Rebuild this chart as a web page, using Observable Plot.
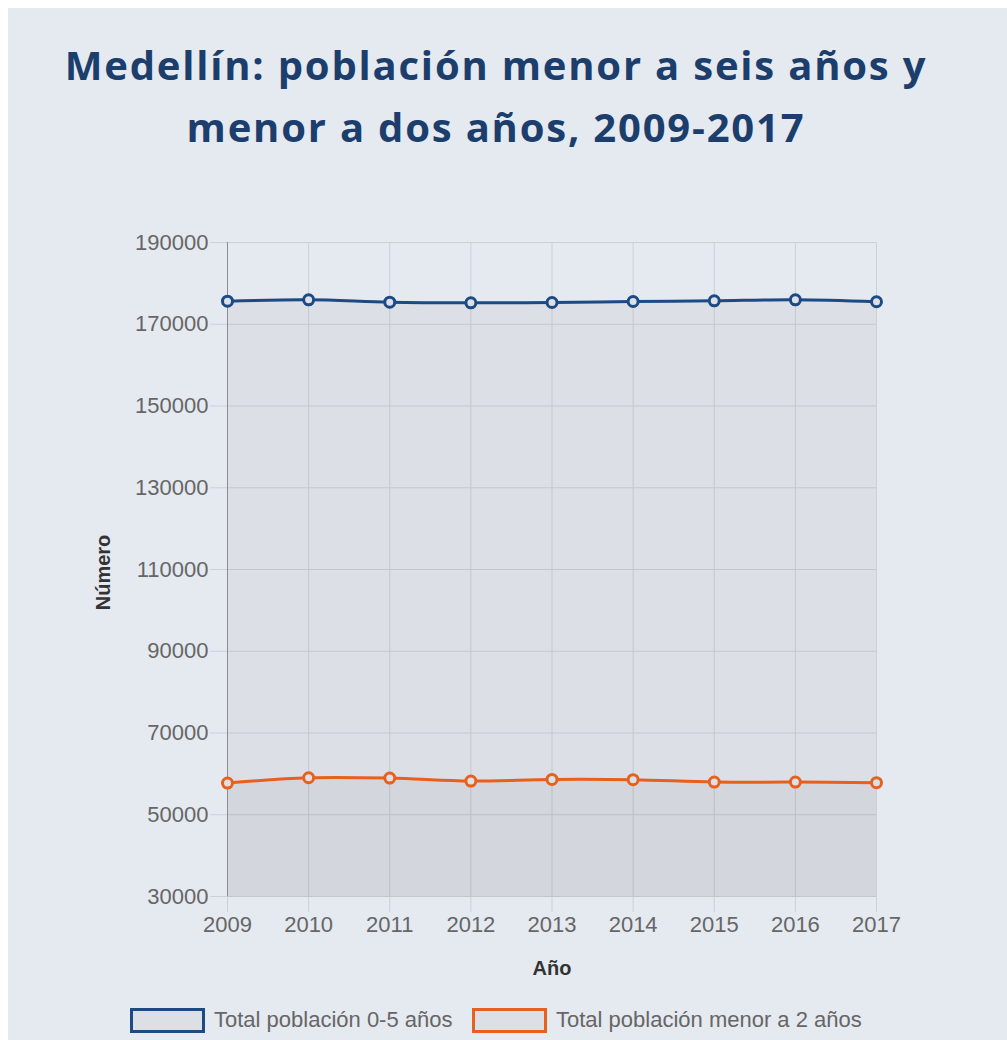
<!DOCTYPE html>
<html>
<head>
<meta charset="utf-8">
<script src="https://cdn.jsdelivr.net/npm/d3@7"></script>
<script src="https://cdn.jsdelivr.net/npm/@observablehq/plot@0.6"></script>
<style>
  html, body { margin: 0; padding: 0; background: #ffffff; }
  #panel { position: absolute; left: 8px; top: 8px; width: 999px; height: 1032px; background: #e5e9f0; }
  #title { position: absolute; left: 0; top: 34px; width: 992px; text-align: center;
    font-family: "Open Sans", Lato, sans-serif; font-weight: 700; font-size: 40px; line-height: 62px; color: #1b3e6d; letter-spacing: 1.8px; }
  #chart { position: absolute; left: 0; top: 200px; }
  #legend { position: absolute; left: 0; top: 1007px; width: 1007px; font-family: "Liberation Sans", Arial, sans-serif; font-size: 22px; color: #666; }
  .item { position: absolute; top: 0; display: flex; align-items: center; }
  .box { width: 69px; height: 19px; border: 3px solid; background: #dcdfe6; margin-right: 9px; }
</style>
</head>
<body>
<div id="panel"></div>
<div id="title">Medellín: población menor a seis años y<br>menor a dos años, 2009-2017</div>
<div id="chart"></div>
<div id="legend"></div>
<script>
const years = [2009, 2010, 2011, 2012, 2013, 2014, 2015, 2016, 2017];
const totalCeroCinco = [175650, 175980, 175400, 175250, 175320, 175570, 175740, 175980, 175500];
const totalMenorDos = [57750, 59050, 58970, 58230, 58650, 58580, 57990, 57990, 57840];
const yTicks = [30000, 50000, 70000, 90000, 110000, 130000, 150000, 170000, 190000];
const seriesNames = ["Total población 0-5 años", "Total población menor a 2 años"];
const seriesColors = ["#1b4a84", "#e8601c"];

const rows = [];
years.forEach((yr, i) => {
  rows.push({year: yr, value: totalCeroCinco[i], serie: seriesNames[0]});
  rows.push({year: yr, value: totalMenorDos[i], serie: seriesNames[1]});
});

const gridColor = "#cdd0d7";
const chart = Plot.plot({
  width: 1007,
  height: 790,
  marginLeft: 227,
  marginRight: 131,
  marginTop: 42,
  marginBottom: 94,
  style: {background: "transparent", fontFamily: "'Liberation Sans', Arial, sans-serif", fontSize: "22px", color: "#666"},
  x: {domain: [2009, 2017], ticks: years, tickFormat: d => String(d)},
  y: {domain: [30000, 190000], ticks: yTicks, tickFormat: d => String(d)},
  color: {domain: seriesNames, range: seriesColors},
  marks: [
    Plot.gridX(years, {stroke: gridColor, strokeOpacity: 1}),
    Plot.gridY(yTicks, {stroke: gridColor, strokeOpacity: 1}),
    Plot.areaY(rows, {x: "year", y1: 30000, y2: "value", z: "serie", fill: "#000", fillOpacity: 0.04, curve: "catmull-rom"}),
    Plot.axisX(years, {tickSize: 16, tickPadding: 4, stroke: gridColor, label: null, fill: "#666", tickFormat: d => String(d)}),
    Plot.axisY(yTicks, {tickSize: 17, tickPadding: 2, stroke: gridColor, label: null, fill: "#666", tickFormat: d => String(d)}),
    Plot.ruleY([30000], {stroke: "#c2c5cc"}),
    Plot.ruleX([2009], {stroke: "#8a8d92"}),
    Plot.line(rows, {x: "year", y: "value", z: "serie", stroke: "serie", strokeWidth: 3, curve: "catmull-rom"}),
    Plot.dot(rows, {x: "year", y: "value", stroke: "serie", strokeWidth: 3, r: 5, fill: "#dde0e7"}),
    Plot.text(["Número"], {frameAnchor: "left", dx: -124, dy: 3, rotate: -90, textAnchor: "middle", fontWeight: "bold", fill: "#333", fontSize: 20}),
    Plot.text(["Año"], {frameAnchor: "bottom", dy: 78, fontWeight: "bold", fill: "#333", fontSize: 20})
  ]
});
document.getElementById("chart").appendChild(chart);

const legend = document.getElementById("legend");
const lefts = [130, 472];
seriesNames.forEach((name, i) => {
  const it = document.createElement("div");
  it.className = "item";
  it.style.left = lefts[i] + "px";
  const b = document.createElement("div");
  b.className = "box";
  b.style.borderColor = seriesColors[i];
  const t = document.createElement("span");
  t.textContent = name;
  it.appendChild(b); it.appendChild(t);
  legend.appendChild(it);
});
</script>
</body>
</html>
